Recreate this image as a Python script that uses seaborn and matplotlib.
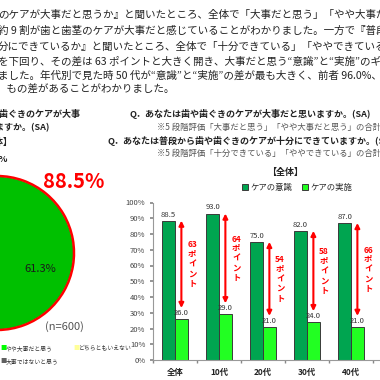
import matplotlib
matplotlib.use("Agg")
import matplotlib.pyplot as plt
import seaborn as sns
import pandas as pd

# ---- データ ----
ages = ["全体", "10代", "20代", "30代", "40代"]
series = ["ケアの意識", "ケアの実施"]
care_ishiki = [88.5, 93.0, 75.0, 82.0, 87.0]   # 大事だと思う（計）
care_jisshi = [26.0, 29.0, 21.0, 24.0, 21.0]   # できている（計）
gap_points = [63, 64, 54, 58, 66]

pie_labels = ["大事だと思う", "やや大事だと思う", "どちらともいえない",
              "あまり大事ではないと思う", "大事ではないと思う"]
pie_values = [61.3, 27.2, 8.5, 2.0, 1.0]
pie_colors = ["#00C000", "#00FF00", "#FFFF99", "#A0A0A0", "#606060"]
pie_total = 88.5
n_total = 600

body = [
    "のケアが大事だと思うか』と聞いたところ、全体で「大事だと思う」「やや大事だと思う」",
    "約 9 割が歯と歯茎のケアが大事だと感じていることがわかりました。一方で『普段",
    "分にできているか』と聞いたところ、全体で「十分できている」「ややできている」",
    "を下回り、その差は 63 ポイントと大きく開き、大事だと思う“意識”と“実施”のギャップ",
    "ました。年代別で見た時 50 代が“意識”と“実施”の差が最も大きく、前者 96.0%、",
    " もの差があることがわかりました。",
]

sns.set_theme(style="ticks")
plt.rcParams["font.family"] = ["Noto Sans CJK JP", "DejaVu Sans"]

W = H = 380
fig = plt.figure(figsize=(3.8, 3.8), dpi=100)
fig.patch.set_facecolor("white")


def fx(x):
    return x / W


def fy(y):
    return 1 - y / H


# 本文
body_y = [15, 31, 47, 62, 76, 90]
body_x = [-2, -2, -2, -2, -2, 4]
for line, x, y in zip(body, body_x, body_y):
    fig.text(fx(x), fy(y), line, fontsize=7.6, va="center", ha="left", color="#222222")

# 左側の見出し
left_head = [("Q．あなたは歯や歯ぐきのケアが大事", 80, 114),
             ("だと思いますか。(SA)", 50, 128),
             ("【全体】", 12, 142),
             ("88.5%", 8, 160)]
for t, x, y in left_head:
    fig.text(fx(x), fy(y), t, fontsize=6.5, weight="bold", va="center", ha="right", color="#222222")

# 円グラフ
ax_pie = fig.add_axes([fx(-80), fy(330), fx(154), 154 / H])
wedges, _, autotexts = ax_pie.pie(
    pie_values, colors=pie_colors, startangle=90, counterclock=False,
    autopct=lambda p: f"{p:.1f}%" if p > 50 else "", pctdistance=0.6,
    textprops=dict(fontsize=8, color="#1a1a1a"))
ring, _ = ax_pie.pie([pie_total, 100 - pie_total], startangle=90, counterclock=False,
                     wedgeprops=dict(fill=False, edgecolor="red", linewidth=1.8))
ring[1].set_visible(False)
for p in ax_pie.patches:
    p.set_clip_on(False)
ax_pie.set_xlim(-1, 1)
ax_pie.set_ylim(-1, 1)
ax_pie.axis("off")

fig.text(fx(74), fy(181), f"{pie_total}%", fontsize=14.5, weight="bold", color="red",
         ha="center", va="center")
fig.text(fx(64), fy(327), f"(n={n_total})", fontsize=8, color="#555555", ha="center", va="center")

# 円グラフの凡例（見えている部分）
leg_items = [(1, 0, 348), (2, 73, 348), (4, 0, 361)]
for idx, x, y in leg_items:
    fig.text(fx(x), fy(y), "■", fontsize=4.5, color=pie_colors[idx], va="center", ha="left")
    fig.text(fx(x + 6), fy(y), pie_labels[idx] if idx != 4 else "大事ではないと思う",
             fontsize=4.2, color="#333333", va="center", ha="left")

# 右側の見出し
right_head = [("Q．あなたは歯や歯ぐきのケアが大事だと思いますか。(SA)", 130, 114, True),
              ("※5 段階評価「大事だと思う」「やや大事だと思う」の合計", 157, 127, False),
              ("Q．あなたは普段から歯や歯ぐきのケアが十分にできていますか。(SA)", 108, 141, True),
              ("※5 段階評価「十分できている」「ややできている」の合計", 157, 153, False)]
for t, x, y, b in right_head:
    fig.text(fx(x), fy(y), t, fontsize=6.5 if b else 6, weight="bold" if b else "normal",
             va="center", ha="left", color="#222222" if b else "#555555")
fig.text(fx(285), fy(172), "【全体】", fontsize=6.5, weight="bold", ha="center", va="center",
         color="#222222")

# 棒グラフ
df = pd.DataFrame({
    "年代": ages * 2,
    "割合": care_ishiki + care_jisshi,
    "項目": [series[0]] * len(ages) + [series[1]] * len(ages),
})
ax = fig.add_axes([fx(153), fy(360), fx(227), 157.5 / H])
sns.barplot(data=df, x="年代", y="割合", hue="項目", palette=["#00A550", "#22FF22"],
            width=0.58, saturation=1, edgecolor="#3a3a3a", linewidth=0.7, ax=ax)

for c in ax.containers:
    ax.bar_label(c, fmt="%.1f", padding=1.5, fontsize=5.5, color="#333333")

for i in range(len(ages)):
    top = care_ishiki[i]
    bottom = care_jisshi[i] + 7
    ax.annotate("", xy=(i + 0.145, top), xytext=(i + 0.145, bottom),
                arrowprops=dict(arrowstyle="<|-|>", color="red", lw=1.5,
                                mutation_scale=7, shrinkA=0, shrinkB=0))
    ax.text(i + 0.39, (top + bottom) / 2, f"{gap_points[i]}\nポ\nイ\nン\nト",
            ha="center", va="center", color="red", fontsize=6, weight="bold", linespacing=1.1)

ax.set_xlim(-0.5, (380 - 175) / 44)
ax.set_ylim(0, 100)
ax.set_yticks(range(0, 101, 10))
ax.set_yticklabels([f"{v}%" for v in range(0, 101, 10)])
ax.set_xticks(range(len(ages)))
ax.set_xticks([i - 0.5 for i in range(len(ages) + 1)], minor=True)
ax.tick_params(axis="y", labelsize=5.5, length=2.5, color="#888888", labelcolor="#444444", pad=3)
ax.tick_params(axis="x", which="major", length=0, labelsize=6, pad=6, labelcolor="#222222")
ax.tick_params(axis="x", which="minor", length=2.5, color="#888888")
for lab in ax.get_xticklabels():
    lab.set_fontweight("bold")
ax.set_xlabel("")
ax.set_ylabel("")
sns.despine(ax=ax)
for s in ["left", "bottom"]:
    ax.spines[s].set_color("#999999")
    ax.spines[s].set_linewidth(0.8)

sns.move_legend(ax, "center", bbox_to_anchor=(fx(297), fy(187)), bbox_transform=fig.transFigure,
                ncol=2, title=None, frameon=False, fontsize=6, handlelength=0.7,
                handleheight=0.7, handletextpad=0.3, columnspacing=1.2)

fig.savefig("out.png", dpi=100, facecolor="white")
